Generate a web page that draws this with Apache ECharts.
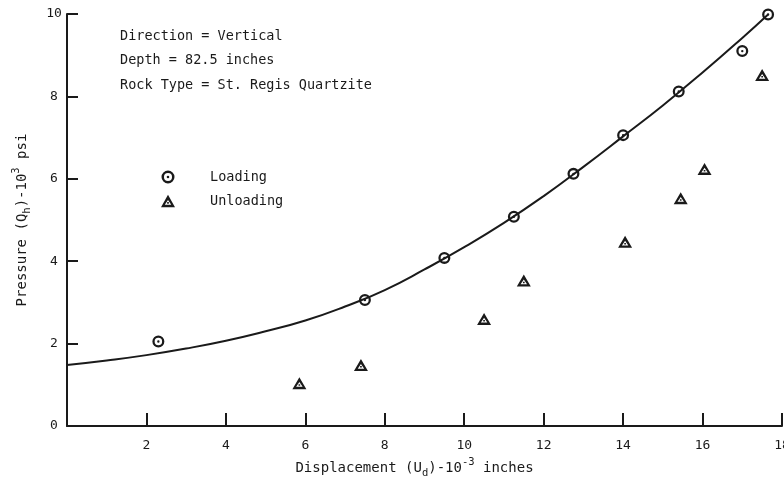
<!DOCTYPE html>
<html>
<head>
<meta charset="utf-8">
<script src="https://cdn.jsdelivr.net/npm/echarts@6/dist/echarts.min.js"></script>
<style>
  html, body { margin: 0; padding: 0; background: #fff; }
  #chart { width: 784px; height: 479px; }
</style>
</head>
<body>
<div id="chart"></div>
<script>
// Loading points: displacement (10^-3 in) vs pressure (10^3 psi)
const loadingX = [2.3, 7.5, 9.5, 11.25, 12.75, 14.0, 15.4, 17.0, 17.65];
const loadingY = [2.05, 3.06, 4.08, 5.08, 6.12, 7.06, 8.12, 9.1, 9.99];

// Unloading points
const unloadingX = [5.85, 7.4, 10.5, 11.5, 14.05, 15.45, 16.05, 17.5];
const unloadingY = [1.04, 1.48, 2.6, 3.53, 4.47, 5.53, 6.24, 8.52];

// Fitted loading curve, read at regular displacements
const curveX = [0, 1, 2, 3, 4, 5, 6, 7, 8, 9, 10, 11, 12, 13, 14, 15, 16, 17, 17.65];
const curveY = [1.48, 1.59, 1.72, 1.88, 2.07, 2.30, 2.56, 2.90, 3.30, 3.80, 4.34, 4.93, 5.58, 6.29, 7.03, 7.78, 8.58, 9.42, 9.99];

// Axis ticks
const xTicks = [0, 2, 4, 6, 8, 10, 12, 14, 16, 18];
const yTicks = [0, 2, 4, 6, 8, 10];

const noteLines = [
  'Direction = Vertical',
  'Depth = 82.5 inches',
  'Rock Type = St. Regis Quartzite'
];

const FONT = '"DejaVu Sans Mono", monospace';
const INK = '#1a1a1a';

// Ring with a centre dot, and a hollow triangle with a dot
const circleSymbol = 'path://M50,0 A50,50 0 1,1 50,100 A50,50 0 1,1 50,0 Z ' +
  'M50,19 A31,31 0 1,0 50,81 A31,31 0 1,0 50,19 Z ' +
  'M50,40 A10,10 0 1,1 50,60 A10,10 0 1,1 50,40 Z';
const triangleSymbol = 'path://M50,0 L100,88 L0,88 Z M50,36 L27,71 L73,71 Z ' +
  'M44,52 L56,52 L56,63 L44,63 Z';

const zip = (xs, ys) => xs.map((x, i) => [x, ys[i]]);

const richName = {
  t: { fontFamily: FONT, fontSize: 14, color: INK, lineHeight: 22, verticalAlign: 'middle' },
  sub: { fontFamily: FONT, fontSize: 10.5, color: INK, lineHeight: 10, verticalAlign: 'bottom' },
  sup: { fontFamily: FONT, fontSize: 10.5, color: INK, lineHeight: 10, verticalAlign: 'top' }
};

const chart = echarts.init(document.getElementById('chart'), null, { renderer: 'canvas' });

chart.setOption({
  backgroundColor: '#fff',
  animation: false,
  grid: { left: 67, right: 2, top: 14, bottom: 53, containLabel: false, outerBoundsMode: 'none' },
  xAxis: {
    type: 'value',
    min: xTicks[0],
    max: xTicks[xTicks.length - 1],
    interval: 2,
    splitLine: { show: false },
    axisLine: { onZero: false, lineStyle: { color: INK, width: 2 } },
    axisTick: { inside: true, length: 13, lineStyle: { color: INK, width: 2 } },
    axisLabel: {
      margin: 13, fontFamily: FONT, fontSize: 13, color: INK,
      formatter: v => (v === 0 ? '' : String(v))
    },
    name: '{t|Displacement (U}{sub|d}{t|)-10}{sup|-3}{t| inches}',
    nameLocation: 'middle',
    nameGap: 30,
    nameTextStyle: { padding: [0, 20, 0, 0], rich: richName }
  },
  yAxis: {
    type: 'value',
    min: yTicks[0],
    max: yTicks[yTicks.length - 1],
    interval: 2,
    splitLine: { show: false },
    axisLine: { onZero: false, lineStyle: { color: INK, width: 2 } },
    axisTick: { inside: true, length: 11, lineStyle: { color: INK, width: 2 } },
    axisLabel: {
      margin: 13, align: 'center', verticalAlign: 'middle',
      fontFamily: FONT, fontSize: 13, color: INK,
      padding: [8, 0, 0, 0]
    },
    name: '{t|Pressure (Q}{sub|h}{t|)-10}{sup|3}{t| psi}',
    nameLocation: 'middle',
    nameRotate: 90,
    nameGap: 34,
    nameTextStyle: { rich: richName }
  },
  legend: {
    orient: 'vertical',
    left: 156,
    top: 165,
    itemWidth: 14,
    itemHeight: 13,
    itemGap: 10,
    data: ['Loading', 'Unloading'],
    textStyle: { fontFamily: FONT, fontSize: 13.5, color: INK, padding: [0, 0, 0, 30] }
  },
  graphic: noteLines.map((line, i) => ({
    type: 'text',
    left: 120,
    top: 29 + i * 24.5,
    style: { text: line, fontFamily: FONT, fontSize: 13.5, fill: INK }
  })),
  series: [
    {
      name: 'Fit',
      type: 'line',
      smooth: true,
      showSymbol: false,
      silent: true,
      data: zip(curveX, curveY),
      lineStyle: { color: INK, width: 2 },
      z: 2
    },
    {
      name: 'Loading',
      type: 'scatter',
      symbol: circleSymbol,
      symbolSize: 12,
      data: zip(loadingX, loadingY),
      itemStyle: { color: INK, opacity: 1 },
      z: 3
    },
    {
      name: 'Unloading',
      type: 'scatter',
      symbol: triangleSymbol,
      symbolSize: [14, 12],
      data: zip(unloadingX, unloadingY),
      itemStyle: { color: INK, opacity: 1 },
      z: 3
    }
  ]
});
</script>
</body>
</html>
